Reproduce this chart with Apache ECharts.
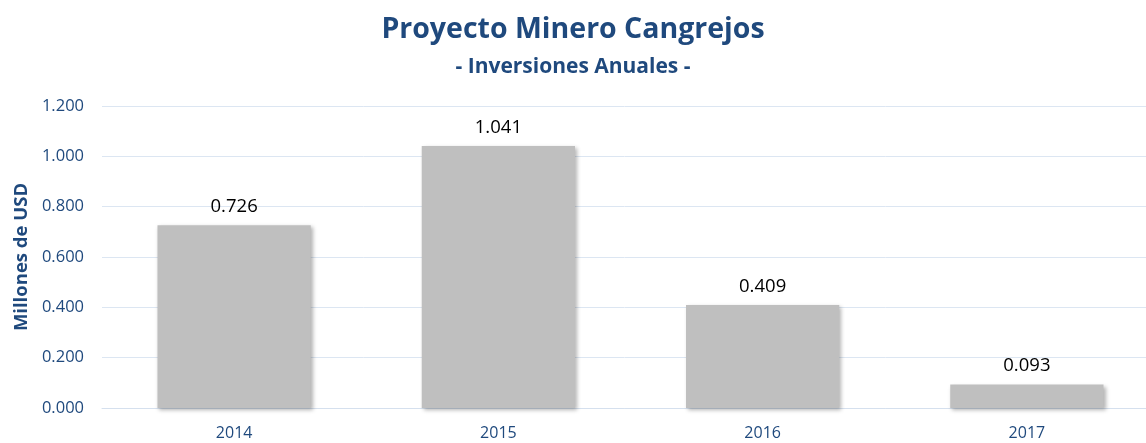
<!DOCTYPE html>
<html lang="es">
  <head>
    <meta charset="utf-8" />
    <title>Proyecto Minero Cangrejos</title>
    <script src="https://cdn.jsdelivr.net/npm/echarts@6/dist/echarts.min.js"></script>
    <style>
      html, body { margin: 0; padding: 0; background: #fff; }
      #main { width: 1146px; height: 443px; }
    </style>
  </head>
  <body>
    <div id="main"></div>
    <script type="text/javascript">
      const years = ['2014', '2015', '2016', '2017']
      const inversiones = [0.726, 1.041, 0.409, 0.093]
      const yTicks = { min: 0, max: 1.2, step: 0.2 }

      const azul = '#1f497d'
      const fuente = '"Open Sans", "Liberation Sans", sans-serif'

      const myChart = echarts.init(document.getElementById('main'))

      const option = {
        animation: false,
        title: {
          text: 'Proyecto Minero Cangrejos',
          subtext: '- Inversiones Anuales -',
          left: 'center',
          top: 10,
          itemGap: 13,
          textStyle: { color: azul, fontFamily: fuente, fontWeight: 'bold', fontSize: 28.5 },
          subtextStyle: { color: azul, fontFamily: fuente, fontWeight: 'bold', fontSize: 21 }
        },
        grid: { left: 102, width: 1057, top: 106, bottom: 35, outerBoundsMode: 'none' },
        xAxis: {
          type: 'category',
          data: years,
          axisTick: { show: false },
          axisLine: { lineStyle: { color: '#d5e0ee' } },
          axisLabel: { color: azul, fontFamily: fuente, fontSize: 16, margin: 17 }
        },
        yAxis: {
          type: 'value',
          min: yTicks.min,
          max: yTicks.max,
          interval: yTicks.step,
          name: 'Millones de USD',
          nameLocation: 'middle',
          nameGap: 71,
          nameTextStyle: { color: azul, fontFamily: fuente, fontWeight: 'bold', fontSize: 18.5 },
          axisLabel: {
            color: azul,
            fontFamily: fuente,
            fontSize: 16.5,
            margin: 18,
            formatter: v => v.toFixed(3)
          },
          splitLine: { lineStyle: { color: '#dce6f2', width: 1 } }
        },
        series: [{
          type: 'bar',
          data: inversiones,
          barWidth: '58%',
          itemStyle: {
            color: '#bfbfbf',
            shadowColor: 'rgba(0,0,0,0.3)',
            shadowBlur: 4,
            shadowOffsetX: 2,
            shadowOffsetY: 2
          },
          label: {
            show: true,
            position: 'top',
            distance: 9,
            color: '#000',
            fontFamily: fuente,
            fontSize: 18.5,
            formatter: p => p.value.toFixed(3)
          }
        }]
      }
      myChart.setOption(option)
    </script>
  </body>
</html>
